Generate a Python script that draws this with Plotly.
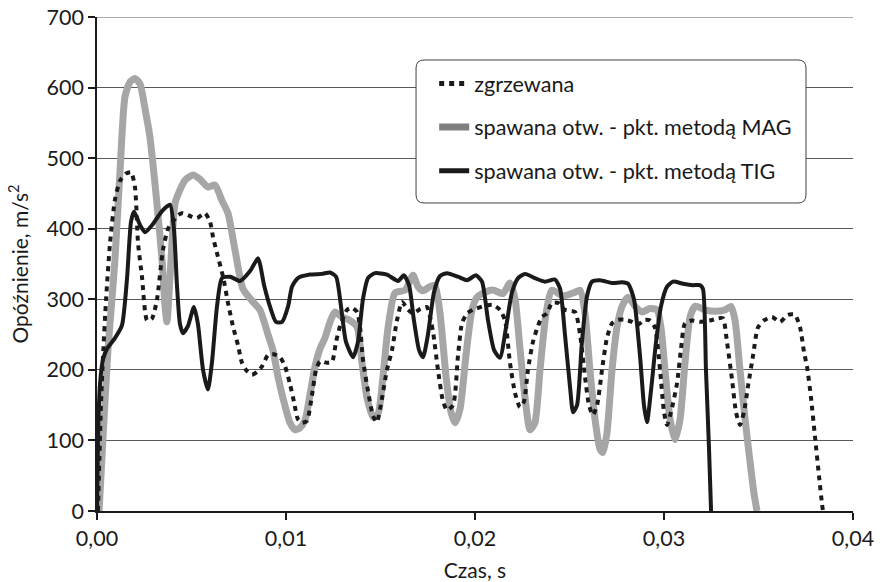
import plotly.graph_objects as go

# ---- data (time in ms, acceleration/deceleration in m/s^2) ----
zgrz_t_ms = [0.05, 0.21, 0.32, 0.48, 0.69, 0.95, 1.22, 1.53, 1.80, 2.01,
             2.17, 2.38, 2.65, 2.91, 3.17, 3.49, 3.76, 3.97, 4.23, 4.50,
             4.92, 5.29, 5.71, 5.98, 6.14, 6.40, 6.67, 6.93, 7.20, 7.46,
             7.67, 7.94, 8.20, 8.47, 8.73, 9.05, 9.37, 9.68, 9.95, 10.21,
             10.42, 10.63, 10.85, 11.11, 11.38, 11.59, 11.80, 12.17, 12.43, 12.65,
             12.86, 13.23, 13.49, 13.76, 13.92, 14.07, 14.34, 14.60, 14.81, 15.08,
             15.34, 15.61, 15.87, 16.14, 16.46, 16.72, 17.09, 17.46, 17.62, 17.78,
             18.04, 18.31, 18.52, 18.84, 19.10, 19.31, 19.58, 19.89, 20.42, 20.95,
             21.32, 21.59, 21.85, 22.12, 22.38, 22.59, 22.80, 23.07, 23.28, 23.54,
             23.81, 24.07, 24.39, 24.76, 25.29, 25.56, 25.82, 26.03, 26.24, 26.46,
             26.72, 26.98, 27.25, 27.57, 27.94, 28.31, 28.62, 28.99, 29.26, 29.52,
             29.79, 30.00, 30.16, 30.37, 30.69, 30.90, 31.11, 31.48, 31.90, 32.43,
             32.86, 33.12, 33.33, 33.60, 33.81, 34.02, 34.23, 34.44, 34.71, 34.97,
             35.29, 35.71, 36.14, 36.56, 36.93, 37.20, 37.41, 37.57, 37.78, 37.99,
             38.20, 38.36, 38.41]
zgrz_a = [0, 150, 220, 300, 380, 441, 468, 478, 480, 459,
          380, 332, 270, 273, 299, 370, 400, 408, 418, 422,
          418, 415, 422, 410, 388, 360, 332, 295, 261, 235,
          210, 198, 193, 197, 205, 221, 222, 218, 205, 180,
          155, 130, 125, 128, 165, 200, 212, 210, 211, 240,
          262, 285, 288, 282, 260, 215, 170, 135, 126, 160,
          200, 228, 270, 296, 285, 280, 286, 289, 275, 254,
          200, 155, 143, 150, 220, 266, 280, 285, 290, 292,
          285, 270, 210, 167, 147, 155, 200, 240, 258, 275,
          280, 295, 295, 285, 282, 250, 190, 150, 136, 150,
          200, 245, 266, 271, 271, 268, 264, 271, 270, 260,
          200, 140, 122, 140, 181, 230, 266, 270, 268, 270,
          273, 273, 240, 186, 140, 122, 140, 176, 220, 260,
          270, 275, 268, 278, 278, 260, 225, 204, 160, 105,
          50, 10, 0]

mag_t_ms = [0.11, 0.37, 0.58, 0.79, 0.95, 1.22, 1.48, 1.75, 2.01, 2.28,
            2.54, 2.80, 3.17, 3.44, 3.60, 3.70, 3.86, 4.13, 4.39, 4.66,
            5.08, 5.45, 5.87, 6.24, 6.61, 6.93, 7.30, 7.72, 8.20, 8.62,
            9.05, 9.31, 9.58, 9.84, 10.21, 10.48, 10.74, 11.01, 11.27, 11.53,
            11.80, 12.06, 12.33, 12.59, 12.96, 13.39, 13.76, 14.02, 14.29, 14.60,
            14.87, 15.13, 15.40, 15.77, 16.30, 16.72, 16.98, 17.25, 17.62, 17.88,
            18.15, 18.47, 18.73, 18.94, 19.21, 19.52, 19.84, 20.11, 20.53, 20.95,
            21.48, 21.85, 22.12, 22.38, 22.65, 22.91, 23.17, 23.44, 23.76, 24.07,
            24.66, 25.29, 25.56, 25.82, 26.08, 26.35, 26.61, 26.77, 26.98, 27.25,
            27.51, 27.78, 28.10, 28.47, 28.84, 29.26, 29.63, 29.84, 30.05, 30.32,
            30.58, 30.85, 31.11, 31.38, 31.64, 32.17, 32.70, 33.23, 33.54, 33.76,
            34.02, 34.29, 34.55, 34.76, 34.92]
mag_a = [0, 130, 228, 300, 356, 483, 587, 608, 613, 605,
         570, 530, 436, 356, 290, 268, 330, 436, 455, 469,
         476, 470, 459, 462, 440, 422, 370, 315, 298, 285,
         250, 228, 190, 160, 125, 115, 118, 129, 165, 204,
         230, 245, 268, 282, 275, 270, 261, 210, 160, 133,
         138, 190, 260, 309, 313, 334, 318, 312, 318, 320,
         280, 190, 140, 125, 145, 220, 285, 303, 310, 313,
         308, 323, 300, 230, 160, 115, 125, 200, 280, 313,
         305, 310, 313, 280, 200, 130, 88, 83, 110, 200,
         260, 290, 303, 290, 282, 287, 285, 260, 200, 130,
         101, 130, 210, 275, 290, 285, 283, 285, 290, 270,
         200, 130, 70, 25, 0]

tig_t_ms = [0, 0.05, 0.16, 0.32, 0.53, 0.95, 1.32, 1.59, 1.80, 1.96,
            2.28, 2.54, 2.91, 3.44, 3.86, 4.07, 4.23, 4.39, 4.55, 4.81,
            5.13, 5.34, 5.61, 5.87, 6.08, 6.35, 6.61, 7.04, 7.57, 8.10,
            8.52, 8.84, 9.15, 9.47, 9.79, 10.11, 10.32, 10.63, 11.27, 11.90,
            12.33, 12.65, 12.91, 13.17, 13.55, 13.81, 14.07, 14.34, 14.71, 15.34,
            15.93, 16.24, 16.51, 16.77, 17.04, 17.25, 17.51, 17.83, 18.15, 18.52,
            19.10, 19.58, 20.05, 20.37, 20.69, 21.01, 21.32, 21.64, 21.96, 22.28,
            22.65, 23.17, 23.70, 24.23, 24.50, 24.76, 25.03, 25.19, 25.40, 25.66,
            25.93, 26.19, 26.61, 27.25, 27.78, 28.10, 28.41, 28.73, 28.94, 29.10,
            29.31, 29.58, 29.84, 30.16, 30.48, 31.01, 31.53, 31.90, 32.06, 32.22,
            32.38, 32.49]
tig_a = [0, 100, 180, 215, 230, 245, 263, 330, 410, 424,
         405, 395, 405, 425, 434, 400, 320, 265, 252, 262,
         289, 265, 200, 172, 210, 290, 330, 332, 326, 340,
         358, 320, 290, 268, 268, 290, 318, 330, 335, 336,
         338, 332, 290, 240, 218, 240, 300, 330, 337, 335,
         326, 334, 320, 270, 228, 218, 250, 310, 333, 337,
         332, 327, 334, 325, 270, 228, 217, 260, 310, 330,
         336, 330, 325, 328, 315, 250, 175, 140, 150, 240,
         305, 325, 327, 323, 324, 322, 300, 220, 150, 126,
         170, 240, 290, 318, 325, 322, 320, 320, 315, 200,
         90, 0]

series_names = ["zgrzewana",
                "spawana otw. - pkt. metodą MAG",
                "spawana otw. - pkt. metodą TIG"]
x_ticks = [0, 0.01, 0.02, 0.03, 0.04]
y_ticks = [0, 100, 200, 300, 400, 500, 600, 700]


def sec(ms):
    return [v / 1000.0 for v in ms]


FONT = "Lato"
BLACK = "#1a1a1a"
GREY = "#a6a6a6"

fig = go.Figure()

fig.add_trace(go.Scatter(x=sec(mag_t_ms), y=mag_a, mode="lines",
                         line=dict(color=GREY, width=7, shape="spline", smoothing=0.6),
                         showlegend=False, hoverinfo="skip"))
fig.add_trace(go.Scatter(x=sec(zgrz_t_ms), y=zgrz_a, mode="lines",
                         line=dict(color=BLACK, width=4, dash="5px,5px",
                                   shape="spline", smoothing=0.6),
                         showlegend=False, hoverinfo="skip"))
fig.add_trace(go.Scatter(x=sec(tig_t_ms), y=tig_a, mode="lines",
                         line=dict(color=BLACK, width=4, shape="spline", smoothing=0.6),
                         showlegend=False, hoverinfo="skip"))

# legend entries
fig.add_trace(go.Scatter(x=[None], y=[None], mode="lines", name=series_names[0],
                         legendgroup="a",
                         line=dict(color=BLACK, width=5, dash="5px,5px")))
fig.add_trace(go.Scatter(x=[None], y=[None], mode="lines", name=series_names[1],
                         legendgroup="b",
                         line=dict(color="#7f7f7f", width=7)))
fig.add_trace(go.Scatter(x=[None], y=[None], mode="lines", name=series_names[2],
                         legendgroup="c",
                         line=dict(color=BLACK, width=5)))

# top gridline at the upper end of the value axis
fig.add_shape(type="line", xref="paper", yref="y", x0=0, x1=1,
              y0=y_ticks[-1], y1=y_ticks[-1],
              line=dict(color="#595959", width=1), layer="below")

# rounded legend box (paper coords)
x0, x1, y0, y1 = 0.4220, 0.9378, 0.6235, 0.9130
rx, ry = 0.0106, 0.0162
path = (f"M{x0+rx},{y1} L{x1-rx},{y1} Q{x1},{y1} {x1},{y1-ry} "
        f"L{x1},{y0+ry} Q{x1},{y0} {x1-rx},{y0} L{x0+rx},{y0} "
        f"Q{x0},{y0} {x0},{y0+ry} L{x0},{y1-ry} Q{x0},{y1} {x0+rx},{y1} Z")
fig.add_shape(type="path", path=path, xref="paper", yref="paper",
              line=dict(color="#404040", width=1), fillcolor="white", layer="above")

fig.update_layout(
    width=880, height=582,
    margin=dict(l=97, r=27, t=17, b=71, autoexpand=False),
    paper_bgcolor="white", plot_bgcolor="white",
    separators=", ",
    font=dict(family=FONT, size=21, color=BLACK),
    legend=dict(x=0.446, y=0.907, xanchor="left", yanchor="top",
                bgcolor="rgba(0,0,0,0)", borderwidth=0,
                font=dict(family=FONT, size=21.6, color=BLACK),
                traceorder="grouped", tracegroupgap=12.5, itemwidth=30),
    xaxis=dict(range=[0, 0.04], tickvals=x_ticks, tickformat=".2f",
               showgrid=False, zeroline=False, automargin=False,
               ticklabeloverflow="allow",
               showline=True, linecolor=BLACK, linewidth=1.5,
               ticks="outside", ticklen=7, tickcolor=BLACK, tickwidth=1.5,
               title=dict(text="Czas, s", font=dict(family=FONT, size=21), standoff=14),
               tickfont=dict(family=FONT, size=21.5)),
    yaxis=dict(range=[0, 700], tickvals=y_ticks,
               showgrid=True, gridcolor="#595959", gridwidth=1,
               zeroline=False, automargin=False,
               ticklabeloverflow="allow",
               showline=True, linecolor=BLACK, linewidth=1.5,
               ticks="outside", ticklen=7, tickcolor=BLACK, tickwidth=1.5,
               title=dict(text="Opóźnienie, m/s<sup>2</sup>",
                          font=dict(family=FONT, size=21), standoff=12),
               tickfont=dict(family=FONT, size=21.5)),
)

# remove the page's default 8px body margin so the 880x582 figure fills the window
fig.write_html("out.html",
               config={"displayModeBar": False},
               post_script="document.body.style.margin='0';"
                           "document.body.style.overflow='hidden';")
